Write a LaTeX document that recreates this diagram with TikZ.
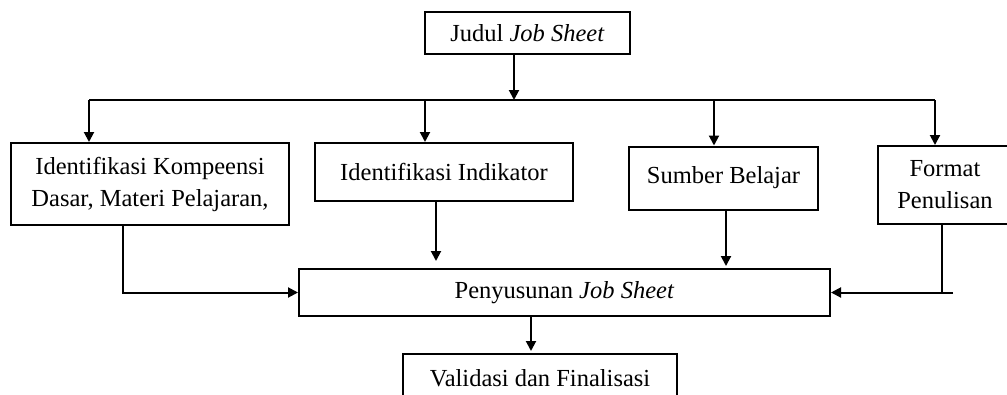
\documentclass[tikz,border=0pt]{standalone}
\usepackage{fontspec}
\setmainfont{Liberation Serif}
\usetikzlibrary{arrows.meta}
\begin{document}
\begin{tikzpicture}[x=1pt,y=-1pt,
  box/.style={draw, line width=2pt, inner sep=0pt, align=center,
    font=\fontsize{24.5}{32}\selectfont},
  conn/.style={line width=2pt},
  arr/.style={conn, -{Triangle[length=10pt,width=10pt]}}]
\useasboundingbox (0,0) rectangle (1007,394);
\node[box, minimum width=205pt, minimum height=42pt] (judul) at (527.5,33) {Judul \textit{Job Sheet}};
\node[box, minimum width=278pt, minimum height=82pt] (b1) at (150,184) {Identifikasi Kompeensi\\Dasar, Materi Pelajaran,};
\node[box, minimum width=258pt, minimum height=58pt] (b2) at (444,172) {Identifikasi Indikator};
\node[box, minimum width=189pt, minimum height=63pt] (b3) at (723.5,178) {Sumber Belajar};
\node[box, minimum width=134pt, minimum height=78pt] (b4) at (945,185) {Format\\Penulisan};
\node[box, minimum width=531pt, minimum height=47pt] (pen) at (564.5,292.5) {Penyusunan \textit{Job Sheet}};
\node[box, minimum width=274pt, minimum height=48pt] (val) at (540,378) {Validasi dan Finalisasi};
% bus
\coordinate (busL) at (89,100);
\coordinate (busR) at (935,100);
\coordinate (busJ) at (514,100);
\coordinate (bus2) at (425,100);
\coordinate (bus3) at (714,100);
\draw[arr] (judul.south -| busJ) -- (busJ);
\draw[conn] (busL) -- (busR);
\draw[arr] (busL) -- (busL |- b1.north);
\draw[arr] (bus2) -- (bus2 |- b2.north);
\draw[arr] (bus3) -- (bus3 |- b3.north);
\draw[arr] (busR) -- (busR |- b4.north);
% to Penyusunan
\coordinate (d1) at (123,0);
\draw[arr] (b1.south -| d1) |- (pen.west);
\coordinate (d2) at (436,0);
\draw[arr, shorten >=7pt] (b2.south -| d2) -- (d2 |- pen.north);
\coordinate (d3) at (726,0);
\draw[arr, shorten >=2pt] (b3.south -| d3) -- (d3 |- pen.north);
\coordinate (d4) at (942,0);
\coordinate (tail) at (953,292.5);
\draw[conn] (b4.south -| d4) -- (d4 |- pen.east);
\draw[arr] (tail) -- (pen.east);
\coordinate (d5) at (531,0);
\draw[arr, shorten >=2pt] (pen.south -| d5) -- (d5 |- val.north);
\end{tikzpicture}
\end{document}
